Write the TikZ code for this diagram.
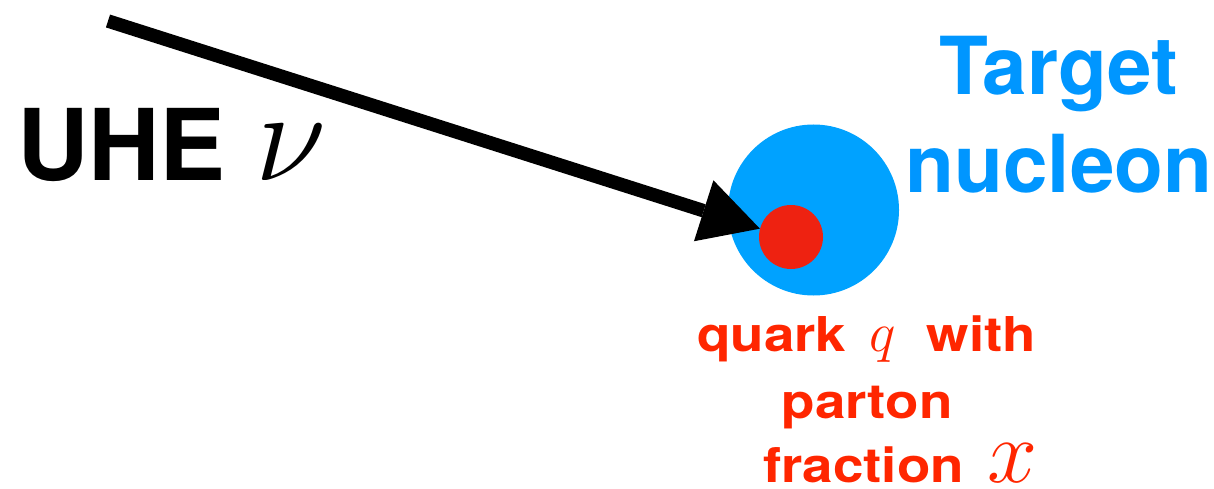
\RequirePackage{fix-cm}
\documentclass[tikz,border=0pt]{standalone}
\usepackage{graphicx}
\usepackage{fontspec}
\setmainfont{TeX Gyre Heros}
\usetikzlibrary{arrows.meta}
\definecolor{nucblue}{RGB}{0,162,255}
\definecolor{txtblue}{RGB}{0,150,255}
\definecolor{qred}{RGB}{238,34,17}
\definecolor{txtred}{RGB}{255,38,0}
\newcommand{\widetxt}[1]{\scalebox{1.14}[1]{#1}}
\begin{document}
\begin{tikzpicture}[x=1pt,y=-1pt,
  lbl/.style={inner sep=0pt,outer sep=0pt,font=\bfseries},
  redlbl/.style={lbl,text=txtred,font=\bfseries\fontsize{48}{48}\selectfont},
  blob/.style={circle,inner sep=0pt,draw=none}]
\useasboundingbox (0,0) rectangle (1214,489);
% nucleon and quark
\node[blob,fill=nucblue,minimum size=171pt] (nucleon) at (813.5,210) {};
\node[blob,fill=qred,minimum size=64pt] (quark) at (791,237) {};
% incoming neutrino
\coordinate (nustart) at (108,21);
\draw[line width=13.5pt,-{Triangle[length=59pt,width=64pt,line width=0pt]}] (nustart) -- (quark.165);
% labels
\node[lbl,anchor=base west] (uhe) at (17,180) {\fontsize{99}{99}\selectfont UHE};
\node[lbl,anchor=base west] (nu) at (255,180) {\fontsize{130}{130}\selectfont$\nu$};
\node[lbl,text=txtblue,anchor=base] (target) at (1059,95) {\fontsize{80}{80}\selectfont Target};
\node[lbl,text=txtblue,anchor=base] (nucl) at (1059,193) {\fontsize{80}{80}\selectfont nucleon};
\node[redlbl,anchor=base west] (l1) at (697,351) {\widetxt{quark}\hspace{23pt}{\fontsize{56}{56}\selectfont$q$}\hspace{31pt}\widetxt{with}};
\node[redlbl,anchor=base] (l2) at (867,418) {\widetxt{parton}};
\node[redlbl,anchor=base west] (l3) at (763,482) {\widetxt{fraction}\hspace{24pt}{\fontsize{90}{90}\selectfont$x$}};
\end{tikzpicture}
\end{document}
